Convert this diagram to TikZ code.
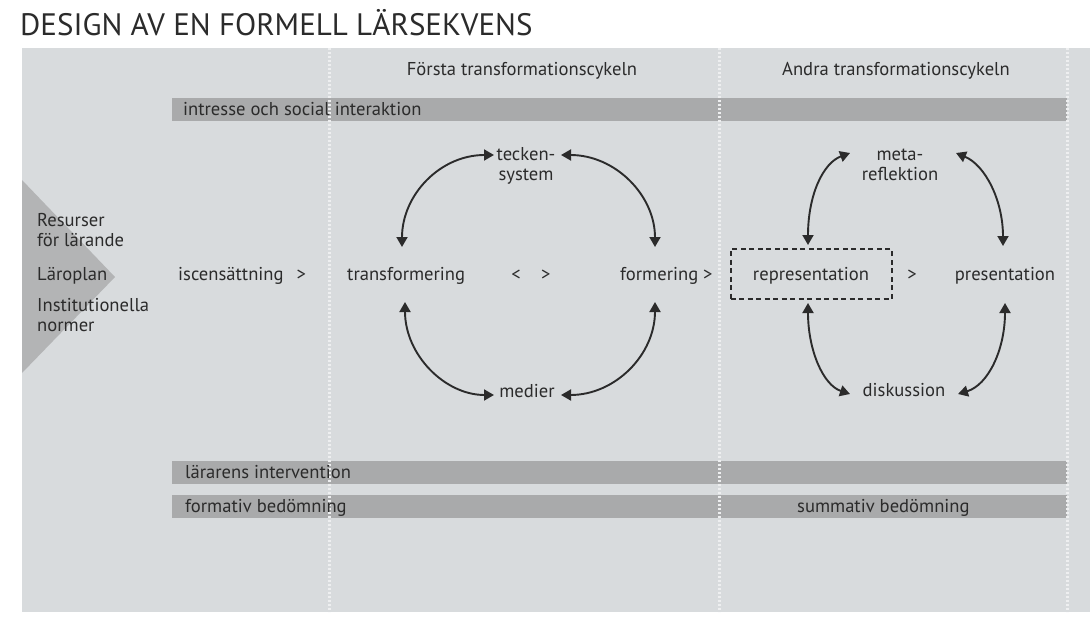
\documentclass[tikz,border=0pt]{standalone}
\usepackage{fontspec}
\setmainfont{PT Sans}
\usetikzlibrary{arrows.meta}
\definecolor{panel}{HTML}{D8DBDD}
\definecolor{barc}{HTML}{A9AAAB}
\definecolor{tri}{HTML}{B3B4B5}
\definecolor{ink}{HTML}{2B2B2B}
\definecolor{dotc}{HTML}{EEEFF0}
\begin{document}
\begin{tikzpicture}[x=1pt,y=-1pt,
  font=\fontsize{18.6}{19.5}\selectfont,
  every node/.style={text=ink, inner sep=0pt},
  lbl/.style={anchor=base west},
  clbl/.style={anchor=base},
  barfill/.style={fill=barc, draw=none},
  cyc/.style={draw=ink, line width=1.9pt, {Triangle[length=10pt,width=11pt]}-{Triangle[length=10pt,width=11pt]}},
  divider/.style={draw=dotc, line width=3pt, dash pattern=on 2pt off 2pt}]
\useasboundingbox (0,0) rectangle (1090,618);
\fill[white] (0,0) rectangle (1090,618);
\fill[panel] (22,48) rectangle (1090,612);
\fill[tri] (22,180) -- (115,277) -- (22,373) -- cycle;
% bars
\fill[barfill] (172,98) rectangle (1067,121);
\fill[barfill] (172,461) rectangle (1067,484);
\fill[barfill] (172,495) rectangle (1067,518);
% dividers
\draw[divider] (329,48) -- (329,612);
\draw[divider] (719,48) -- (719,612);
\draw[divider] (1067,48) -- (1067,612);
% title
\node[lbl, font=\fontsize{31}{34}\selectfont] (title) at (20,36) {DESIGN AV EN FORMELL LÄRSEKVENS};
\node[clbl] (forsta) at (522,76) {Första transformationscykeln};
\node[clbl] (andra) at (896,76) {Andra transformationscykeln};
% bar texts
\node[lbl] (intresse) at (183,115) {intresse och social interaktion};
\node[lbl] (larare) at (185,478) {lärarens intervention};
\node[lbl] (formativ) at (185,512) {formativ bedömning};
\node[lbl] (summativ) at (797,512) {summativ bedömning};
% left labels
\node[lbl, align=left] (resurser) at (37,246) {Resurser\\för lärande};
\node[lbl] (laroplan) at (37,280) {Läroplan};
\node[lbl, align=left] (inst) at (37,331) {Institutionella\\normer};
% main row
\node[lbl] (isc) at (178,280) {iscensättning\hspace{0.7em}>};
\node[lbl] (transf) at (347,280) {transformering};
\node[clbl] (ltgt) at (531,280) {<\hspace{1.1em}>};
\node[lbl] (form) at (620,280) {formering >};
\node[draw=ink, line width=2pt, dash pattern=on 5pt off 3.5pt, minimum width=161pt, minimum height=50pt] (repbox) at (811,274) {};
\node[clbl] (repr) at (811,280) {representation};
\node[clbl] (gt2) at (912,280) {>};
\node[clbl] (pres) at (1005,280) {presentation};
% cycle labels
\node[clbl, align=center] (teck) at (526,180) {tecken-\\system};
\node[clbl] (med) at (527,397) {medier};
\node[clbl, align=center] (meta) at (900,180) {meta-\\reflektion};
\node[clbl] (disk) at (904,396) {diskussion};
% arrow end coordinates
\coordinate (a1) at (402,247);
\coordinate (a2) at (494,155);
\coordinate (a3) at (561,155);
\coordinate (a4) at (655,247);
\coordinate (a5) at (405,302);
\coordinate (a6) at (494,395);
\coordinate (a7) at (655,302);
\coordinate (a8) at (561,395);
\coordinate (b1) at (808,245);
\coordinate (b2) at (850,153);
\coordinate (b3) at (956,153);
\coordinate (b4) at (1003,246);
\coordinate (b5) at (808,303);
\coordinate (b6) at (850,394);
\coordinate (b7) at (1005,303);
\coordinate (b8) at (958,394);
% first cycle
\draw[cyc] (a1) .. controls (402,195) and (440,155) .. (a2);
\draw[cyc] (a3) .. controls (615,155) and (655,195) .. (a4);
\draw[cyc] (a5) .. controls (405,355) and (445,395) .. (a6);
\draw[cyc] (a7) .. controls (655,355) and (615,395) .. (a8);
% second cycle
\draw[cyc] (b1) .. controls (808,195) and (823,163) .. (b2);
\draw[cyc] (b3) .. controls (985,165) and (1003,200) .. (b4);
\draw[cyc] (b5) .. controls (808,350) and (823,385) .. (b6);
\draw[cyc] (b7) .. controls (1005,350) and (988,385) .. (b8);
\end{tikzpicture}
\end{document}
